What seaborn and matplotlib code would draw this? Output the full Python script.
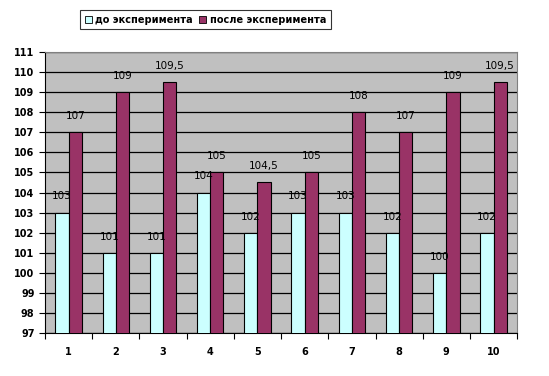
import matplotlib
matplotlib.use("Agg")
import matplotlib.pyplot as plt
import seaborn as sns
import pandas as pd
import numpy as np
from matplotlib.patches import Patch

categories = ["1", "2", "3", "4", "5", "6", "7", "8", "9", "10"]
before = [103, 101, 101, 104, 102, 103, 103, 102, 100, 102]
after = [107, 109, 109.5, 105, 104.5, 105, 108, 107, 109, 109.5]
series_names = ["до эксперимента", "после эксперимента"]
colors = ["#CCFFFF", "#993366"]
yticks = list(range(97, 112))

df = pd.DataFrame({
    "cat": categories * 2,
    "val": before + after,
    "series": [series_names[0]] * len(categories) + [series_names[1]] * len(categories),
})

sns.set_style("white")
plt.rcParams["font.family"] = ["DejaVu Sans"]
plt.rcParams["text.color"] = "black"
plt.rcParams["xtick.color"] = "black"
plt.rcParams["ytick.color"] = "black"

fig = plt.figure(figsize=(5.49, 3.76), dpi=100)
ax = fig.add_axes([0.082, 0.114, 0.86, 0.748])
ax.set_facecolor("#C0C0C0")

sns.barplot(data=df, x="cat", y="val", hue="series", palette=colors,
            order=categories, hue_order=series_names, width=0.56, saturation=1,
            edgecolor="black", linewidth=0.8, ax=ax, legend=False, zorder=3)

ax.set_ylim(97, 111)
ax.set_xlim(-0.5, len(categories) - 0.5)
ax.set_yticks(yticks)
ax.set_yticklabels([str(t) for t in yticks], fontsize=7, fontweight="bold", color="black")
ax.yaxis.grid(True, color="black", linewidth=0.9, zorder=0)
ax.set_axisbelow(True)
ax.set_xlabel("")
ax.set_ylabel("")

ax.set_xticks(range(len(categories)))
ax.set_xticklabels(categories, fontsize=7, fontweight="bold", color="black")
ax.tick_params(axis="x", which="major", length=0, pad=10)
ax.set_xticks(np.arange(-0.5, len(categories) + 0.5, 1), minor=True)
ax.tick_params(axis="x", which="minor", length=4, color="black", width=0.8, direction="out", bottom=True)
ax.tick_params(axis="y", length=4, color="black", width=0.8, direction="out", left=True)

for s in ["left", "bottom"]:
    ax.spines[s].set_color("black")
    ax.spines[s].set_linewidth(0.8)
for s in ["top", "right"]:
    ax.spines[s].set_color("#808080")
    ax.spines[s].set_linewidth(0.8)

for container in ax.containers:
    labels = [("%g" % b.get_height()).replace(".", ",") for b in container]
    ax.bar_label(container, labels=labels, padding=8, fontsize=7.5, color="black")

handles = [Patch(facecolor=c, edgecolor="black", linewidth=0.6) for c in colors]
leg = fig.legend(handles, series_names, loc="center", bbox_to_anchor=(0.374, 0.948),
                 ncol=2, frameon=True, fancybox=False, prop={"weight": "bold", "size": 7},
                 handlelength=0.7, handleheight=0.7, handletextpad=0.4, columnspacing=0.6,
                 borderpad=0.5)
leg.get_frame().set_edgecolor("black")
leg.get_frame().set_linewidth(0.8)
for t in leg.get_texts():
    t.set_color("black")

fig.savefig("out.png", dpi=100, facecolor="white")
